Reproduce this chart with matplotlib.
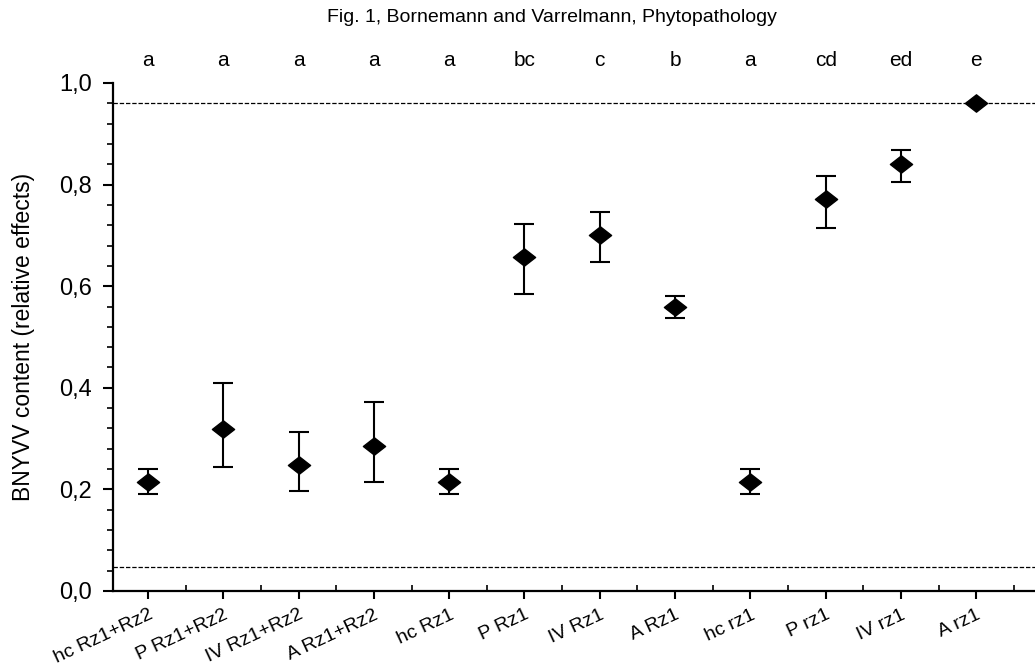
import numpy as np
import matplotlib
matplotlib.use("Agg")
import matplotlib.pyplot as plt
from matplotlib.path import Path
from matplotlib.ticker import FuncFormatter, MultipleLocator

# =============================
# DATA
# =============================
categories = [
    "hc Rz1+Rz2", "P Rz1+Rz2", "IV Rz1+Rz2", "A Rz1+Rz2",
    "hc Rz1", "P Rz1", "IV Rz1", "A Rz1",
    "hc rz1", "P rz1", "IV rz1", "A rz1",
]
means = [0.215, 0.319, 0.248, 0.286, 0.215, 0.657, 0.701, 0.559, 0.215, 0.772, 0.840, 0.960]
upper = [0.240, 0.409, 0.313, 0.372, 0.240, 0.722, 0.746, 0.581, 0.240, 0.817, 0.868, 0.960]
lower = [0.191, 0.244, 0.197, 0.215, 0.191, 0.585, 0.648, 0.537, 0.191, 0.715, 0.805, 0.960]
letters = ["a", "a", "a", "a", "a", "bc", "c", "b", "a", "cd", "ed", "e"]

# reference lines (dashed)
ref_lines = [0.96, 0.047]

# =============================
# PLOT
# =============================
plt.rcParams["font.family"] = ["Liberation Sans", "DejaVu Sans"]

fig = plt.figure(figsize=(10.35, 6.65), dpi=100)
ax = fig.add_axes([113 / 1035, 1 - 591 / 665, 1 - 113 / 1035, (591 - 83) / 665])

x = np.arange(len(categories))
means = np.array(means)
yerr = np.array([means - np.array(lower), np.array(upper) - means])

# squashed diamond marker
diamond = Path([(-1, 0), (0, 0.78), (1, 0), (0, -0.78), (-1, 0)],
               [Path.MOVETO, Path.LINETO, Path.LINETO, Path.LINETO, Path.CLOSEPOLY])

for y in ref_lines:
    ax.axhline(y, color="black", lw=0.9, ls=(0, (3.5, 1.5)), zorder=1)

ax.errorbar(x, means, yerr=yerr, fmt="none", ecolor="black",
            elinewidth=1.5, capsize=7.5, capthick=1.5, zorder=2)
ax.plot(x, means, ls="none", marker=diamond, markersize=16,
        color="black", zorder=3)

# significance letters
for xi, lab in zip(x, letters):
    ax.text(xi, 1.045, lab, transform=ax.get_xaxis_transform(),
            ha="center", va="center", fontsize=15)

# =============================
# AXES STYLE
# =============================
ax.set_xlim(-0.465, 11.78)
ax.set_ylim(0, 1.0)

ax.spines["top"].set_visible(False)
ax.spines["right"].set_visible(False)
ax.spines["left"].set_linewidth(1.6)
ax.spines["bottom"].set_linewidth(1.6)

ax.set_xticks(x)
ax.set_xticklabels(categories, rotation=25, ha="right", rotation_mode="anchor",
                   fontsize=14)
ax.set_xticks(x + 0.5, minor=True)
ax.tick_params(axis="x", which="major", direction="out", length=6, width=1.5, pad=5)
ax.tick_params(axis="x", which="minor", direction="in", length=4, width=1.2)

ax.yaxis.set_major_locator(MultipleLocator(0.2))
ax.yaxis.set_minor_locator(MultipleLocator(0.04))
ax.yaxis.set_major_formatter(FuncFormatter(lambda v, p: f"{v:.1f}".replace(".", ",")))
ax.tick_params(axis="y", which="major", direction="out", length=7, width=1.5,
               labelsize=17, pad=8)
ax.tick_params(axis="y", which="minor", direction="out", length=4, width=1.2)

ax.set_ylabel("BNYVV content (relative effects)", fontsize=16.5)
ax.yaxis.set_label_coords(-0.085, 0.5)

fig.text(552 / 1035, 1 - 18 / 665, "Fig. 1, Bornemann and Varrelmann, Phytopathology",
         ha="center", va="center", fontsize=14)

plt.savefig("out.png", dpi=100)
